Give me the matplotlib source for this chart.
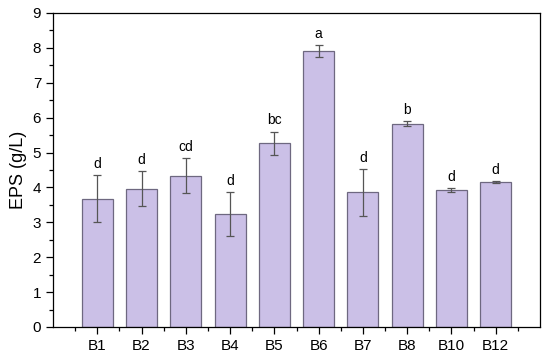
import matplotlib.pyplot as plt
import numpy as np

plt.rcParams['font.family'] = ['Liberation Sans', 'DejaVu Sans']

# Data
groups = ['B1', 'B2', 'B3', 'B4', 'B5', 'B6', 'B7', 'B8', 'B10', 'B12']
eps = [3.68, 3.96, 4.34, 3.24, 5.27, 7.91, 3.86, 5.83, 3.93, 4.16]
err = [0.67, 0.50, 0.49, 0.62, 0.33, 0.18, 0.67, 0.07, 0.06, 0.02]
letters = ['d', 'd', 'cd', 'd', 'bc', 'a', 'd', 'b', 'd', 'd']

x = np.arange(1, len(groups) + 1)

fig = plt.figure(figsize=(5.5, 3.6), dpi=100)
ax = fig.add_axes([53 / 550, 1 - 327 / 360, 487 / 550, 314 / 360])

ax.bar(x, eps, width=0.7, color='#cbc0e7', edgecolor='#6e6880', linewidth=0.9,
       yerr=err, error_kw=dict(ecolor='#555555', elinewidth=0.9, capsize=3, capthick=0.9))

# Significance letters above error bars
for xi, v, e, t in zip(x, eps, err, letters):
    ax.text(xi, v + e + 0.12, t, ha='center', va='bottom', fontsize=10)

ax.set_xlim(0, 11)
ax.set_ylim(0, 9)
ax.set_xticks(x)
ax.set_xticklabels(groups)
ax.set_xticks(np.arange(0.5, 11, 1), minor=True)
ax.set_yticks(np.arange(0, 10, 1))
ax.set_yticks(np.arange(0, 9, 0.5), minor=True)
ax.tick_params(axis='both', which='major', direction='out', length=5, width=0.9, labelsize=11)
ax.tick_params(axis='both', which='minor', direction='out', length=3, width=0.9)
ax.set_ylabel('EPS (g/L)', fontsize=13)

for s in ax.spines.values():
    s.set_linewidth(0.9)

plt.savefig('out.png', dpi=100)
